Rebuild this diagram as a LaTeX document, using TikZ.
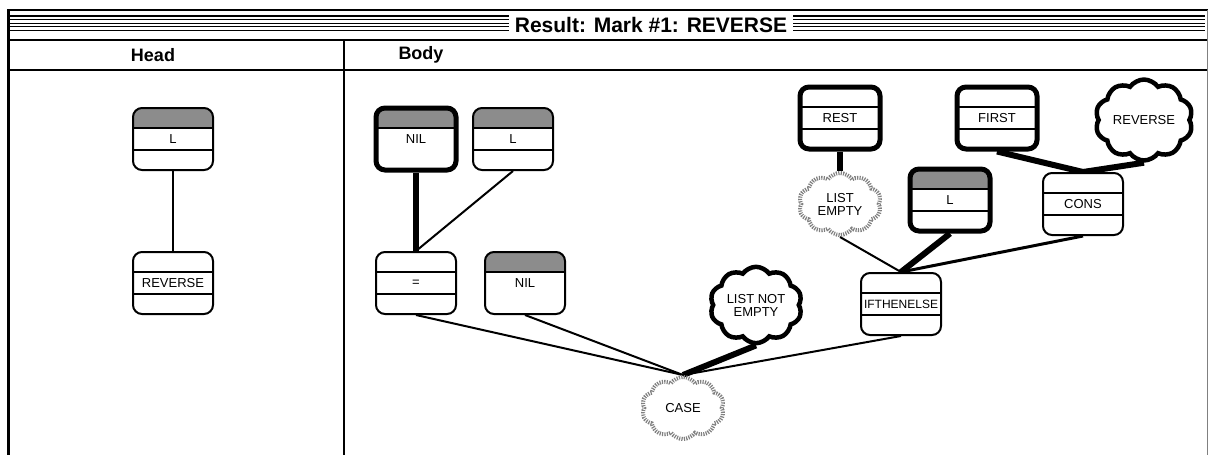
\documentclass[tikz,border=0pt]{standalone}
\usepackage{fontspec}
\setmainfont{Liberation Sans}
\usetikzlibrary{shapes.symbols,backgrounds}

\begin{document}
\begin{tikzpicture}[x=1pt,y=-1pt]
			\tikzset{top/.style={fill=white}, low/.style={draw}}
			\tikzset{box/.style={draw,fill=white,rounded corners=9pt,line width=2pt,
				minimum width=80pt,minimum height=62pt,inner sep=0pt,font=\fontsize{13}{14}\selectfont,
				path picture={
					\fill[top,sharp corners] (path picture bounding box.north west) rectangle ([yshift=-19pt]path picture bounding box.north east);
					\draw[line width=1.3pt] ([yshift=11pt]path picture bounding box.west) -- ([yshift=11pt]path picture bounding box.east);
					\path[low,line width=1.3pt] ([yshift=-11pt]path picture bounding box.west) -- ([yshift=-11pt]path picture bounding box.east);
				}}}
			\tikzset{var/.style={box,top/.style={fill=black!45}}}
			\tikzset{nil/.style={var,low/.style={}}}
			\tikzset{heavy/.style={line width=5pt}}
			\tikzset{cloudy/.style={cloud,cloud puffs=10,cloud puff arc=110,aspect=1.3,fill=white,
				inner sep=1pt,minimum width=82pt,minimum height=62pt,align=center,font=\fontsize{13}{13}\selectfont}}
			\tikzset{goal/.style={cloudy,draw,line width=4.5pt}}
			\tikzset{fuzzy/.style={cloudy,draw=black!50,line width=4pt,dash pattern=on 1.2pt off 1.2pt}}

			\useasboundingbox (0,0) rectangle (1208,455);

			% window frame
			\draw[line width=2pt] (7,10) -- (1208,10);
			\foreach \y in {16,19.6,...,34}
				\draw[line width=1.2pt] (10,\y) -- (1205,\y);
			\node[fill=white,inner xsep=6pt,font=\bfseries\fontsize{21}{24}\selectfont] (title) at (651,25) {Result: Mark \#1: REVERSE};
			\draw[line width=2pt] (7,40) -- (1208,40);
			\draw[line width=2pt] (7,70) -- (1208,70);
			\draw[line width=1.5pt] (344,40) -- (344,455);
			\draw[line width=3pt] (8,9) -- (8,455);
			\draw[line width=1pt,black!50] (1207,10) -- (1207,455);
			\node[font=\bfseries\fontsize{18}{20}\selectfont] (head) at (153,55) {Head};
			\node[font=\bfseries\fontsize{18}{20}\selectfont] (body) at (421,55) {Body};

			% head
			\node[var] (hl) at (173,139) {L};
			\node[box] (hrev) at (173,283) {REVERSE};

			% body
			\node[nil,heavy] (nil1) at (416,139) {NIL};
			\node[var] (l1) at (513,139) {L};
			\node[box] (eq) at (416,283) {=};
			\node[nil] (nil2) at (525,283) {NIL};
			\node[goal] (lne) at (756,305) {LIST NOT\\EMPTY};
			\node[fuzzy] (case) at (683,408) {CASE};
			\node[box,font=\fontsize{12}{13}\selectfont] (ite) at (901,304) {IFTHENELSE};
			\node[box,heavy] (rest) at (840,118) {REST};
			\node[fuzzy] (le) at (840,204) {LIST\\EMPTY};
			\node[var,heavy] (l2) at (950,200) {L};
			\node[box,heavy] (first) at (997,118) {FIRST};
			\node[goal] (rev) at (1144,120) {REVERSE};
			\node[box] (cons) at (1083,204) {CONS};

			\begin{scope}[on background layer]
				\draw[line width=2pt] (hl.south) -- (hrev.north);
				\draw[line width=6pt] (nil1.south) -- (eq.north);
				\draw[line width=2pt] (l1.south) -- (eq.north);
				\draw[line width=2pt] (eq.south) -- (case.north);
				\draw[line width=2pt] (nil2.south) -- (case.north);
				\draw[line width=6pt] (lne.south) -- (case.north);
				\draw[line width=2pt] (ite.south) -- (case.north);
				\draw[line width=6pt] (rest.south) -- (le.north);
				\draw[line width=2pt] (le.south) -- (ite.north);
				\draw[line width=6pt] (l2.south) -- (ite.north);
				\draw[line width=3pt] (cons.south) -- (ite.north);
				\draw[line width=6pt] (first.south) -- (cons.north);
				\draw[line width=6pt] (rev.south) -- (cons.north);
			\end{scope}
	\end{tikzpicture}
\end{document}
